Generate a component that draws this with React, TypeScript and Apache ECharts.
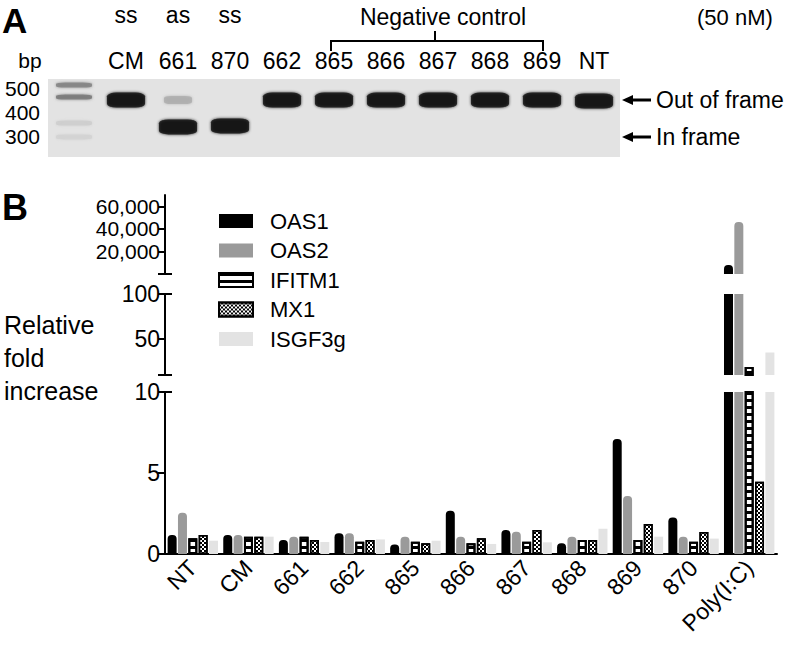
import React, { useEffect, useRef } from 'react';
import * as echarts from 'echarts';

// ---------- Panel B data ----------
const categories = ['NT', 'CM', '661', '662', '865', '866', '867', '868', '869', '870', 'Poly(I:C)'];
const geneNames = ['OAS1', 'OAS2', 'IFITM1', 'MX1', 'ISGF3g'];
const oas1 = [1.17, 1.17, 0.86, 1.28, 0.58, 2.67, 1.48, 0.66, 7.1, 2.26, 8000];
const oas2 = [2.55, 1.17, 1.07, 1.28, 1.07, 1.07, 1.38, 1.07, 3.58, 1.07, 46000];
const ifitm1 = [0.97, 1.07, 1.07, 0.76, 0.76, 0.66, 0.76, 0.86, 0.86, 0.76, 19];
const mx1 = [1.17, 1.07, 0.86, 0.86, 0.66, 0.97, 1.48, 0.86, 1.85, 1.36, 4.46];
const isgf3g = [0.82, 1.07, 0.74, 0.9, 0.82, 0.62, 0.72, 1.56, 1.07, 0.95, 35];
const lowTicks = [0, 5, 10];
const midTicks = [50, 100];
const topTicks = [20000, 40000, 60000];

// ---------- Panel A (gel) data ----------
const laneLabels = ['', 'CM', '661', '870', '662', '865', '866', '867', '868', '869', 'NT'];
const strandLabels = ['', 'ss', 'as', 'ss', '', '', '', '', '', '', ''];
const bpTicks = [500, 400, 300];
const bandLane = [0, 0, 0, 0, 1, 2, 2, 3, 4, 5, 6, 7, 8, 9, 10];
const bandBp = [512, 463, 357, 300, 451, 451, 341, 345, 451, 451, 451, 451, 451, 451, 447];
const bandIntensity = [0.45, 0.5, 0.1, 0.08, 1, 0.25, 1, 1, 1, 1, 1, 1, 1, 1, 1];

const FONT = 'Liberation Sans, Arial, Helvetica, sans-serif';

// layout
const B_LEFT = 165;
const B_WIDTH = 612;
const SEG = [
  { top: 392, height: 162, min: 0, max: 10, floor: -Infinity },
  { top: 294, height: 81, min: 10, max: 100, floor: 10 },
  { top: 195, height: 79, min: 0, max: 70000, floor: 100 },
];

const geneStyles: any[] = [
  { color: '#000' },
  { color: '#9a9a9a' },
  {
    color: '#fff', borderColor: '#000', borderWidth: 2,
    decal: { symbol: 'rect', symbolSize: 1, color: '#000', dashArrayX: [1, 0], dashArrayY: [3, 4], rotation: 0 },
  },
  {
    color: '#fff', borderColor: '#000', borderWidth: 1.5,
    decal: { symbol: 'rect', symbolSize: 1, color: '#000', dashArrayX: [[2, 2], [0, 2, 2, 0]], dashArrayY: [2, 0], rotation: 0 },
  },
  { color: '#e3e3e3' },
];
const rounded = [true, true, false, false, false];

export default function App() {
  const ref = useRef<HTMLDivElement>(null);
  useEffect(() => {
    if (!ref.current) return;
    const chart = echarts.init(ref.current, undefined, { renderer: 'svg' });
    const geneValues = [oas1, oas2, ifitm1, mx1, isgf3g];

    const grids: any[] = [
      { left: 48, top: 79, width: 572, height: 78, show: true, backgroundColor: '#e3e3e3', borderWidth: 0 },
      ...SEG.map((s) => ({ left: B_LEFT, top: s.top, width: B_WIDTH, height: s.height })),
    ];

    const axisLbl = { color: '#000', fontFamily: FONT, fontSize: 23 };

    const xAxes: any[] = [
      {
        type: 'category', gridIndex: 0, position: 'top', data: laneLabels,
        axisLine: { show: false }, axisTick: { show: false },
        axisLabel: { ...axisLbl, fontSize: 23, margin: 7, interval: 0 },
      },
      {
        type: 'category', gridIndex: 0, position: 'top', offset: 46, data: strandLabels,
        axisLine: { show: false }, axisTick: { show: false },
        axisLabel: { ...axisLbl, fontSize: 23, margin: 7, interval: 0 },
      },
      {
        type: 'category', gridIndex: 1, data: categories,
        axisLine: { lineStyle: { color: '#000', width: 2 } },
        axisTick: { alignWithLabel: true, length: 7, lineStyle: { color: '#000', width: 2 } },
        axisLabel: { ...axisLbl, rotate: 45, margin: 10, interval: 0 },
      },
      { type: 'category', gridIndex: 2, data: categories, show: false },
      { type: 'category', gridIndex: 3, data: categories, show: false },
    ];

    const yLine = { show: true, lineStyle: { color: '#000', width: 2 } };
    const yTick = { show: true, length: 7, lineStyle: { color: '#000', width: 2 } };
    const yAxes: any[] = [
      {
        type: 'value', gridIndex: 0, min: 218, max: 537,
        axisLine: { show: false }, axisTick: { show: false }, splitLine: { show: false },
        axisLabel: { ...axisLbl, fontSize: 21, margin: 8, customValues: bpTicks },
      },
      {
        type: 'value', gridIndex: 1, min: SEG[0].min, max: SEG[0].max, interval: 5,
        axisLine: yLine, axisTick: { ...yTick, customValues: lowTicks }, splitLine: { show: false },
        axisLabel: { ...axisLbl, margin: 5, customValues: lowTicks },
      },
      {
        type: 'value', gridIndex: 2, min: SEG[1].min, max: SEG[1].max,
        axisLine: yLine, axisTick: { ...yTick, customValues: [SEG[1].min, ...midTicks] }, splitLine: { show: false },
        axisLabel: { ...axisLbl, margin: 5, customValues: midTicks },
      },
      {
        type: 'value', gridIndex: 3, min: SEG[2].min, max: SEG[2].max,
        axisLine: yLine, axisTick: { ...yTick, customValues: [SEG[2].min, ...topTicks] }, splitLine: { show: false },
        axisLabel: {
          ...axisLbl, fontSize: 21, lineHeight: 17, margin: 5, customValues: topTicks, hideOverlap: false,
          formatter: (v: number) => v.toLocaleString('en-US'),
        },
      },
    ];

    const series: any[] = [];
    SEG.forEach((seg, si) => {
      geneValues.forEach((vals, gi) => {
        series.push({
          type: 'bar', name: geneNames[gi], xAxisIndex: si + 2, yAxisIndex: si + 1,
          barWidth: 9, barGap: '15%', silent: true,
          itemStyle: geneStyles[gi],
          data: vals.map((v) => {
            if (!(v > seg.floor)) return '-';
            if (rounded[gi]) return { value: v, itemStyle: { borderRadius: v > seg.max ? 0 : [4, 4, 0, 0] } };
            return v;
          }),
        });
      });
    });

    const shade = (i: number) => {
      const g = Math.round(227 - 217 * i);
      return `rgb(${g},${g},${g})`;
    };
    series.push({
      type: 'scatter', xAxisIndex: 0, yAxisIndex: 0, silent: true, symbol: 'roundRect',
      data: bandLane.map((lane, i) => {
        const c = shade(bandIntensity[i]);
        const size = lane === 0 ? [36, 5] : bandIntensity[i] < 0.5 ? [28, 8] : [38, 15];
        return { value: [lane, bandBp[i]], symbolSize: size, itemStyle: { color: c, shadowBlur: 3, shadowColor: c } };
      }),
    });

    const txt = (text: string, x: number, y: number, size: number, align = 'left', bold = false) => ({
      type: 'text', x, y, silent: true,
      style: { text, fill: '#000', font: `${bold ? 'bold ' : ''}${size}px ${FONT}`, align, verticalAlign: 'middle' },
    });
    const line = (x1: number, y1: number, x2: number, y2: number, w = 2) => ({
      type: 'line', silent: true, shape: { x1, y1, x2, y2 }, style: { stroke: '#000', lineWidth: w },
    });
    const arrow = (y: number) => ([
      { type: 'polygon', silent: true, shape: { points: [[622, y], [633, y - 5], [633, y + 5]] }, style: { fill: '#000' } },
      line(632, y, 651, y, 3),
    ]);

    const segTop = SEG.map((s) => s.top);
    const segBot = SEG.map((s) => s.top + s.height);
    const graphic: any[] = [
      txt('A', 2, 20, 35, 'left', true),
      txt('bp', 30, 60, 21, 'center'),
      txt('Negative control', 443, 17, 23, 'center'),
      txt('(50 nM)', 697, 17, 22, 'left'),
      {
        type: 'polyline', silent: true,
        shape: { points: [[331, 51], [331, 41], [435, 41], [435, 31], [435, 41], [543, 41], [543, 51]] },
        style: { stroke: '#000', lineWidth: 2, fill: null },
      },
      ...arrow(100),
      ...arrow(137),
      txt('Out of frame', 656, 100, 23),
      txt('In frame', 656, 137, 23),
      txt('B', 2, 207, 36, 'left', true),
      txt('Relative', 4, 325, 25),
      txt('fold', 4, 358, 25),
      txt('increase', 4, 391, 25),
      line(B_LEFT, segBot[2], B_LEFT + 7, segBot[2]),
      line(B_LEFT, segTop[1], B_LEFT + 7, segTop[1]),
      line(B_LEFT, segBot[1], B_LEFT + 7, segBot[1]),
      line(B_LEFT, segTop[0], B_LEFT + 7, segTop[0]),
    ];

    chart.setOption({
      animation: false,
      grid: grids,
      xAxis: xAxes,
      yAxis: yAxes,
      legend: {
        data: geneNames, orient: 'vertical', left: 213, top: 205, icon: 'rect',
        itemWidth: 34, itemHeight: 14, itemGap: 7.5, selectedMode: false,
        textStyle: { color: '#000', fontFamily: FONT, fontSize: 22, lineHeight: 16, padding: [0, 0, 0, 12] },
      },
      series,
      graphic,
    });
    return () => chart.dispose();
  }, []);
  return <div ref={ref} style={{ position: 'absolute', left: 0, top: 0, width: 792, height: 658, background: '#fff' }} />;
}
